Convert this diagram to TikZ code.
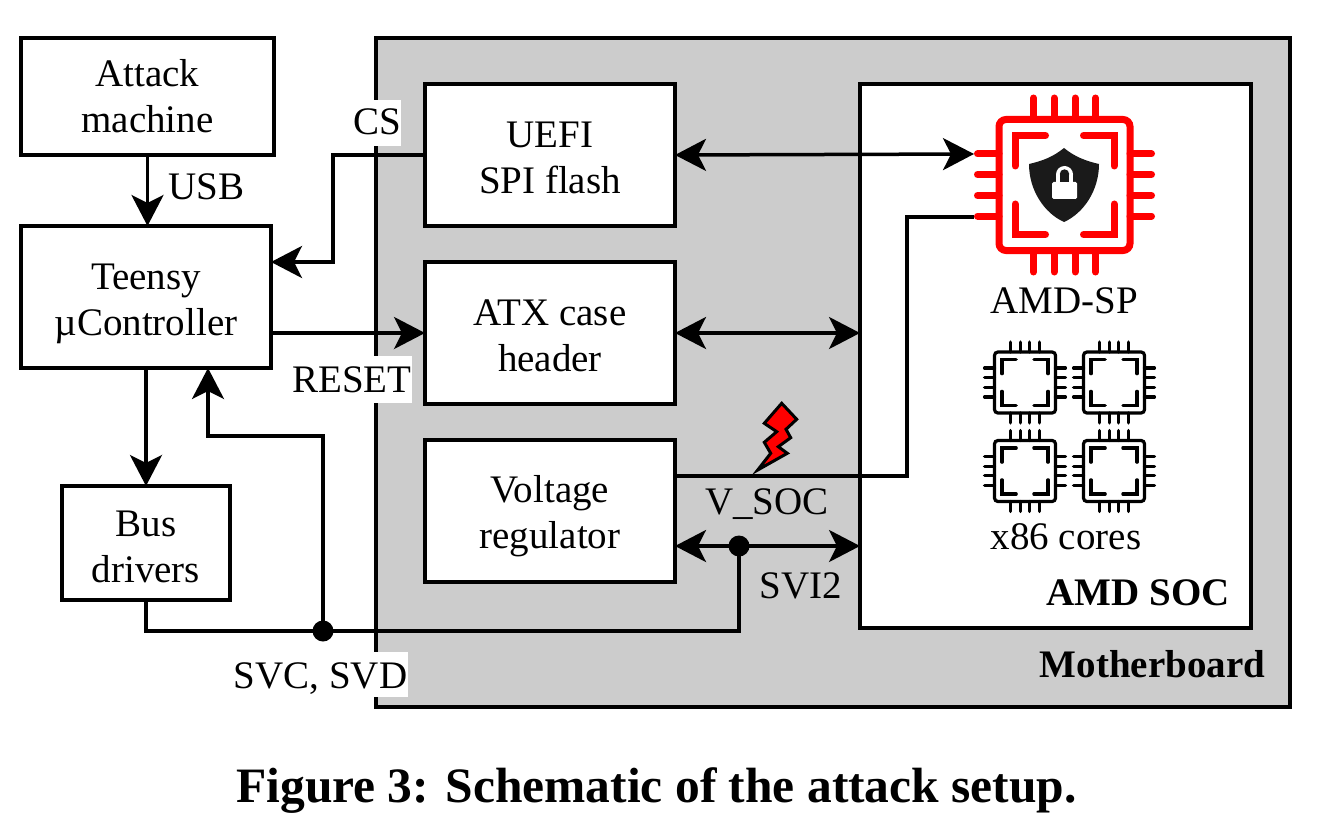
\documentclass[tikz,border=0pt]{standalone}
\usepackage{fontspec}
\setmainfont{Liberation Serif}
\usetikzlibrary{arrows.meta,calc}
\definecolor{boardgrey}{HTML}{CCCCCC}
\definecolor{shieldblack}{HTML}{1A1A1A}
\newcommand{\toprule}[1]{\rule{0pt}{#1pt}}
\tikzset{
  box/.style={draw=black,line width=3.5pt,fill=white,outer sep=0pt,inner sep=0pt,align=center,font=\fontsize{39}{46}\selectfont},
  conn/.style={draw=black,line width=3.5pt},
  arrowto/.style={conn,-{Stealth[length=31pt,width=32pt,inset=8pt]}},
  biarrow/.style={conn,{Stealth[length=31pt,width=32pt,inset=8pt]}-{Stealth[length=31pt,width=32pt,inset=8pt]}},
  lbl/.style={font=\fontsize{39}{46}\selectfont,inner sep=0pt},
  whitelbl/.style={lbl,fill=white},
  boldlbl/.style={font=\fontsize{39}{46}\selectfont\bfseries,inner sep=0pt},
  jdot/.style={circle,fill=black,inner sep=0pt,minimum size=21pt,outer sep=0pt}
}
% chip icon: #1 centre x, #2 centre y, #3 scale, #4 colour, #5 line width
\newcommand{\chipicon}[5]{%
  \begin{scope}[shift={(#1,#2)},x=#3pt,y=-#3pt,line width=#5pt,draw=#4,line cap=round,line join=miter]
    \draw[rounded corners=#3*7pt] (-65.5,-65.5) rectangle (65.5,65.5);
    \foreach \o in {-31,-10.5,10.5,31}{
      \draw (\o,-87) -- (\o,-65.5);
      \draw (\o,87) -- (\o,65.5);
      \draw (-87,\o) -- (-65.5,\o);
      \draw (87,\o) -- (65.5,\o);
    }
    \draw (-19,-49.5) -- (-49.5,-49.5) -- (-49.5,-19);
    \draw (19,-49.5) -- (49.5,-49.5) -- (49.5,-19);
    \draw (-19,49.5) -- (-49.5,49.5) -- (-49.5,19);
    \draw (19,49.5) -- (49.5,49.5) -- (49.5,19);
  \end{scope}}
\begin{document}
\begin{tikzpicture}[x=1pt,y=-1pt]
\useasboundingbox (0,0) rectangle (1319,837);
\fill[white] (0,0) rectangle (1319,837);
% motherboard
\node[box,fill=boardgrey,minimum width=914pt,minimum height=669pt] (mb) at (833,372.5) {};
% white-backed labels over the board edge
\node[whitelbl,minimum width=47pt,text height=35pt,text depth=11pt] (cs) at (377.5,123) {CS};
\node[whitelbl,minimum width=119pt,text height=36pt,text depth=11pt] (reset) at (352,379.5) {RESET};
\node[whitelbl,minimum width=174pt,text height=36pt,text depth=9pt] (svc) at (320.5,674.5) {SVC, SVD};
% boxes
\node[box,minimum width=253pt,minimum height=117pt] (attack) at (147.5,96.5) {Attack\\machine};
\node[box,minimum width=250pt,minimum height=142pt] (teensy) at (146,297) {\toprule{40}Teensy\\µController};
\node[box,minimum width=168pt,minimum height=114pt] (bus) at (146,543) {\toprule{33}Bus\\drivers};
\node[box,minimum width=250pt,minimum height=142pt] (uefi) at (550,155) {\toprule{31}UEFI\\SPI flash};
\node[box,minimum width=250pt,minimum height=142pt] (atx) at (550,333) {\toprule{32}ATX case\\header};
\node[box,minimum width=250pt,minimum height=142pt] (vr) at (550,511) {\toprule{38}Voltage\\regulator};
\node[box,minimum width=391pt,minimum height=544pt] (soc) at (1055.5,356) {};
% junctions and bends
\node[jdot] (d1) at (323,631) {};
\node[jdot] (d2) at (739,546) {};
\coordinate (csbendA) at (333,155);
\coordinate (csbendB) at (333,262);
\coordinate (fb) at (208,436);
\coordinate (vbend) at (907,476);
\coordinate (pintop) at (974,154);
\coordinate (pinlow) at (974,217);
% connectors
\draw[arrowto] (attack.south) -- (attack.south |- teensy.north);
\draw[arrowto] (uefi.west) -- (csbendA) -- (csbendB) -- (csbendB -| teensy.east);
\draw[arrowto] (atx.west -| teensy.east) -- (atx.west);
\draw[arrowto] (teensy.south) -- (bus.north);
\draw[conn] (bus.south) |- (d1.center) -| (d2.center);
\draw[arrowto] (d1.center) |- (fb) -- (fb |- teensy.south);
\draw[biarrow] (uefi.east) -- (pintop);
\draw[biarrow] (atx.east) -- (atx.east -| soc.west);
\draw[conn] (vr.east |- vbend) -- (vbend) -- (vbend |- pinlow) -- (pinlow);
\draw[biarrow] (vr.east |- d2) -- (d2 -| soc.west);
% labels
\node[lbl] (usb) at (206.5,187) {USB};
\node[lbl] (vsoc) at (767,504) {V\_SOC};
\node[lbl] (svi) at (800.5,586) {SVI2};
\node[lbl] (amdsp) at (1064.5,301) {AMD-SP};
\node[lbl] (x86) at (1066,537) {x86 cores};
\node[boldlbl] (amdsoc) at (1138,593) {AMD SOC};
\node[boldlbl] (board) at (1152.5,664) {Motherboard};
\node[anchor=base,inner sep=0pt,font=\fontsize{49.5}{55}\selectfont\bfseries] (caption) at (656.5,802) {Figure 3: Schematic of the attack setup.};
% lightning bolt
\draw[fill=red,draw=black,line width=3pt,miter limit=10]
  (781.7,403.3) -- (796.7,419.3) -- (786,429.3) -- (790.7,437.7) -- (778.3,446.7) -- (787.3,453.3)
  -- (757.7,470) -- (770.7,453.3) -- (764.3,442.3) -- (776.7,431.7) -- (764.3,423.3) -- cycle;
% red chip with shield
\chipicon{1064.5}{185}{1}{red}{7}
\fill[shieldblack] (1064,148) .. controls (1053,157) and (1042,161) .. (1029,164)
  .. controls (1029,190) and (1044,213) .. (1064,222)
  .. controls (1084,213) and (1099,190) .. (1099,164)
  .. controls (1086,161) and (1075,157) .. (1064,148) -- cycle;
\fill[white] (1064.5,174.5) circle (8.5pt);
\fill[white,rounded corners=1.5pt] (1052,182) rectangle (1077,199);
\fill[white] (1056,174.5) rectangle (1073,183);
\fill[shieldblack] (1064.5,174) circle (4.7pt);
\fill[shieldblack] (1059.8,174) rectangle (1069.2,182);
% small cores
\chipicon{1025}{382.5}{0.465}{black}{3.2}
\chipicon{1114}{382.5}{0.465}{black}{3.2}
\chipicon{1025}{471}{0.465}{black}{3.2}
\chipicon{1114}{471}{0.465}{black}{3.2}
\end{tikzpicture}
\end{document}
